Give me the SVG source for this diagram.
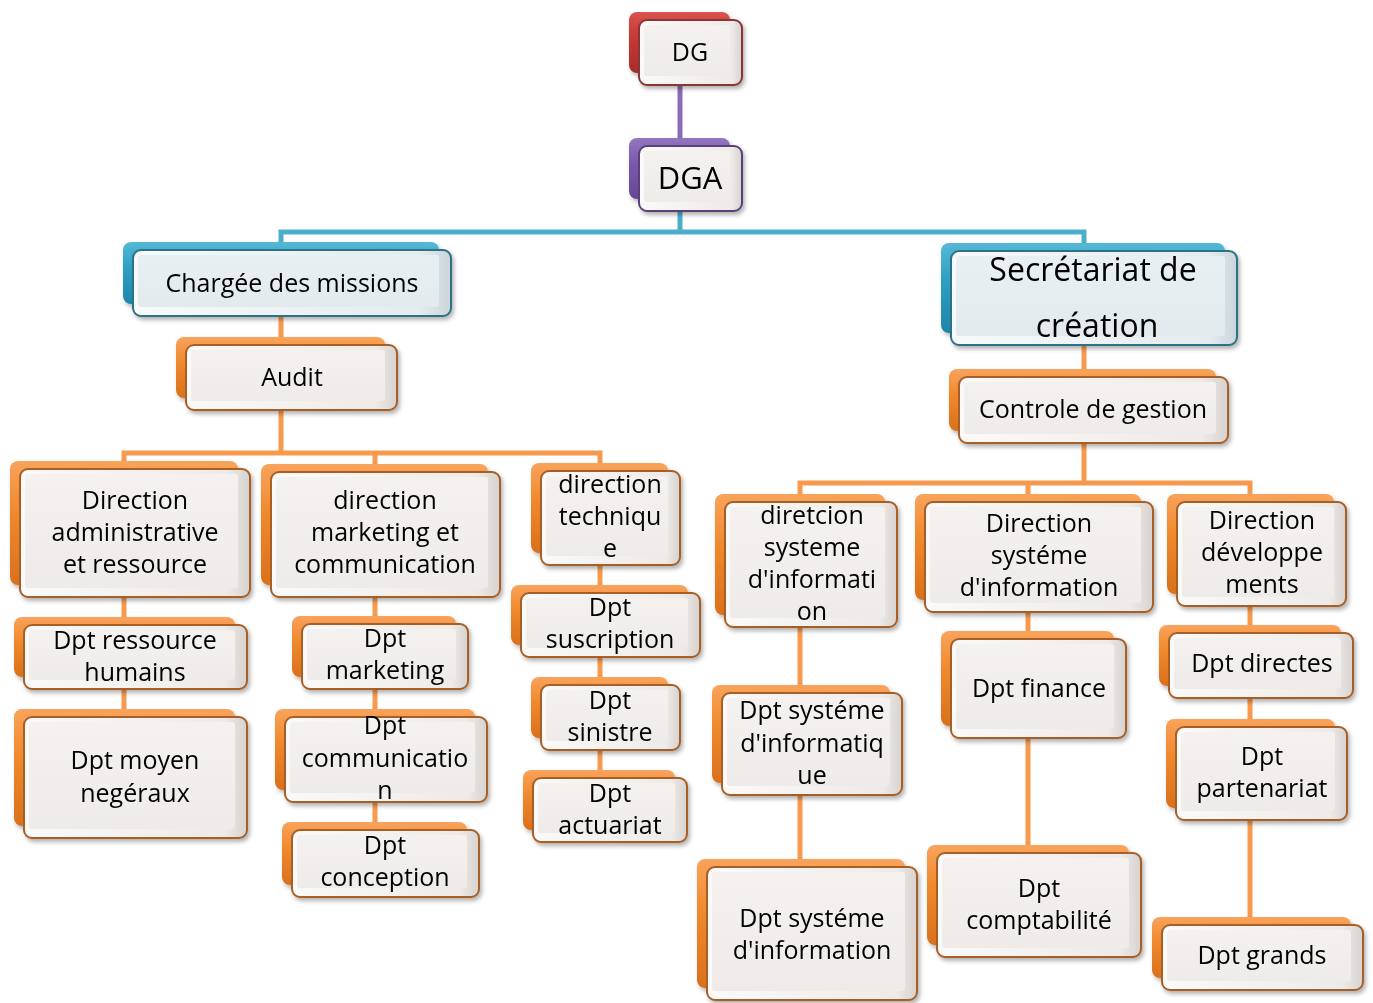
<svg xmlns="http://www.w3.org/2000/svg" width="1373" height="1003" viewBox="0 0 1373 1003">
<defs>
<style>
.lbl{font-family:"Open Sans","Noto Sans",sans-serif;font-size:25px;fill:#000;text-anchor:middle}
.big{font-size:31px}
.sec{font-size:32px}
.conn path{fill:none;stroke-width:5}
.c-o{stroke:#F79A4E}
.c-b{stroke:#4BAECB}
.c-p{stroke:#8A6BB4}
.node{filter:url(#sh)}
.back{stroke:none}
.front{stroke-width:2}
.inner{stroke:none;fill:url(#innerG)}
.orange .back{fill:url(#bO)}
.orange .front{fill:url(#fO);stroke:#A85E26}
.blue .back{fill:url(#bB)}
.blue .front{fill:url(#fB);stroke:#2E6F86}
.blue .inner{fill:url(#innerB)}
.red .back{fill:url(#bR)}
.red .front{fill:url(#fO);stroke:#8C3434}
.purple .back{fill:url(#bP)}
.purple .front{fill:url(#fO);stroke:#5A4278}
</style>
<filter id="sh" x="-10%" y="-10%" width="125%" height="130%">
<feDropShadow dx="2" dy="3" stdDeviation="2" flood-color="#000" flood-opacity="0.3"/>
</filter>
<linearGradient id="bO" x1="0" y1="0" x2="0" y2="1">
<stop offset="0" stop-color="#F9A35C"/><stop offset="0.4" stop-color="#F08A2E"/><stop offset="1" stop-color="#D9701C"/>
</linearGradient>
<linearGradient id="bB" x1="0" y1="0" x2="0" y2="1">
<stop offset="0" stop-color="#55B8D6"/><stop offset="0.4" stop-color="#2FA0C4"/><stop offset="1" stop-color="#1E85A8"/>
</linearGradient>
<linearGradient id="bR" x1="0" y1="0" x2="0" y2="1">
<stop offset="0" stop-color="#D9534F"/><stop offset="0.4" stop-color="#C63A36"/><stop offset="1" stop-color="#A82C2A"/>
</linearGradient>
<linearGradient id="bP" x1="0" y1="0" x2="0" y2="1">
<stop offset="0" stop-color="#9276C0"/><stop offset="0.4" stop-color="#7B5AAE"/><stop offset="1" stop-color="#654795"/>
</linearGradient>
<linearGradient id="fO" x1="0" y1="0" x2="1" y2="0">
<stop offset="0" stop-color="#FBFAF9"/><stop offset="0.9" stop-color="#EEEAE7"/><stop offset="1" stop-color="#D6D2CF"/>
</linearGradient>
<linearGradient id="fB" x1="0" y1="0" x2="1" y2="0">
<stop offset="0" stop-color="#F6FAFB"/><stop offset="0.9" stop-color="#E4ECF0"/><stop offset="1" stop-color="#CBD5DA"/>
</linearGradient>
<linearGradient id="innerG" x1="0" y1="0" x2="0" y2="1">
<stop offset="0" stop-color="#F4F1EF"/><stop offset="1" stop-color="#EFEBE8"/>
</linearGradient>
<linearGradient id="innerB" x1="0" y1="0" x2="0" y2="1">
<stop offset="0" stop-color="#E9F0F3"/><stop offset="1" stop-color="#E2EAEE"/>
</linearGradient>
</defs>
<rect width="1373" height="1003" fill="#fff"/>

<g id="connectors" class="conn">
<path class="c-p" d="M680 85V146"/>
<path class="c-b" d="M680 211V232M281 250V232H1084V251"/>
<path class="c-o" d="M281 316V345M281 410V453M124 469V453H600V471M375 453V472"/>
<path class="c-o" d="M124 597V717M375 597V830M600 565V778"/>
<path class="c-o" d="M1084 345V377M1084 443V483M800 502V483H1250V502M1028 483V502"/>
<path class="c-o" d="M800 627V867M1028 612V853M1250 606V925"/>
</g>

<g id="DG" class="node red">
<rect class="back" x="629" y="12" width="101" height="61" rx="8"/>
<rect class="front" x="639" y="20" width="103" height="65" rx="8"/>
<rect class="inner" x="644" y="25" width="86" height="51" rx="3"/>
<text class="lbl" x="690" y="61">DG</text>
</g>

<g id="DGA" class="node purple">
<rect class="back" x="629" y="138" width="101" height="61" rx="8"/>
<rect class="front" x="639" y="146" width="103" height="65" rx="8"/>
<rect class="inner" x="644" y="151" width="86" height="51" rx="3"/>
<text class="lbl big" x="690" y="189">DGA</text>
</g>

<g id="charge" class="node blue">
<rect class="back" x="123" y="242" width="316" height="62" rx="8"/>
<rect class="front" x="133" y="250" width="318" height="66" rx="8"/>
<rect class="inner" x="138" y="255" width="301" height="52" rx="3"/>
<text class="lbl" x="292" y="292">Chargée des missions</text>
</g>

<g id="secretariat" class="node blue">
<rect class="back" x="941" y="243" width="284" height="90" rx="8"/>
<rect class="front" x="951" y="251" width="286" height="94" rx="8"/>
<rect class="inner" x="956" y="256" width="269" height="80" rx="3"/>
<text class="lbl sec" x="1093" y="281">Secrétariat de</text>
<text class="lbl sec" x="1097" y="337">création</text>
</g>

<g id="audit" class="node orange">
<rect class="back" x="176" y="337" width="209" height="61" rx="8"/>
<rect class="front" x="186" y="345" width="211" height="65" rx="8"/>
<rect class="inner" x="191" y="350" width="194" height="51" rx="3"/>
<text class="lbl" x="292" y="386">Audit</text>
</g>

<g id="controle" class="node orange">
<rect class="back" x="949" y="369" width="267" height="62" rx="8"/>
<rect class="front" x="959" y="377" width="269" height="66" rx="8"/>
<rect class="inner" x="964" y="382" width="252" height="52" rx="3"/>
<text class="lbl" x="1093" y="418">Controle de gestion</text>
</g>

<g id="dir-admin" class="node orange">
<rect class="back" x="10" y="461" width="228" height="124" rx="8"/>
<rect class="front" x="20" y="469" width="230" height="128" rx="8"/>
<rect class="inner" x="25" y="474" width="213" height="114" rx="3"/>
<text class="lbl" x="135" y="509">Direction</text>
<text class="lbl" x="135" y="541">administrative</text>
<text class="lbl" x="135" y="573">et ressource</text>
</g>

<g id="dir-mkt" class="node orange">
<rect class="back" x="261" y="464" width="227" height="121" rx="8"/>
<rect class="front" x="271" y="472" width="229" height="125" rx="8"/>
<rect class="inner" x="276" y="477" width="212" height="111" rx="3"/>
<text class="lbl" x="385" y="509">direction</text>
<text class="lbl" x="385" y="541">marketing et</text>
<text class="lbl" x="385" y="573">communication</text>
</g>

<g id="dir-tech" class="node orange">
<rect class="back" x="531" y="463" width="137" height="90" rx="8"/>
<rect class="front" x="541" y="471" width="139" height="94" rx="8"/>
<rect class="inner" x="546" y="476" width="122" height="80" rx="3"/>
<text class="lbl" x="610" y="493">direction</text>
<text class="lbl" x="610" y="525">techniqu</text>
<text class="lbl" x="610" y="557">e</text>
</g>

<g id="dpt-rh" class="node orange">
<rect class="back" x="14" y="617" width="221" height="60" rx="8"/>
<rect class="front" x="24" y="625" width="223" height="64" rx="8"/>
<rect class="inner" x="29" y="630" width="206" height="50" rx="3"/>
<text class="lbl" x="135" y="649">Dpt ressource</text>
<text class="lbl" x="135" y="681">humains</text>
</g>

<g id="dpt-moyen" class="node orange">
<rect class="back" x="14" y="709" width="221" height="117" rx="8"/>
<rect class="front" x="24" y="717" width="223" height="121" rx="8"/>
<rect class="inner" x="29" y="722" width="206" height="107" rx="3"/>
<text class="lbl" x="135" y="769">Dpt moyen</text>
<text class="lbl" x="135" y="802">negéraux</text>
</g>

<g id="dpt-mkt" class="node orange">
<rect class="back" x="292" y="616" width="164" height="61" rx="8"/>
<rect class="front" x="302" y="624" width="166" height="65" rx="8"/>
<rect class="inner" x="307" y="629" width="149" height="51" rx="3"/>
<text class="lbl" x="385" y="647">Dpt</text>
<text class="lbl" x="385" y="679">marketing</text>
</g>

<g id="dpt-comm" class="node orange">
<rect class="back" x="275" y="709" width="200" height="81" rx="8"/>
<rect class="front" x="285" y="717" width="202" height="85" rx="8"/>
<rect class="inner" x="290" y="722" width="185" height="71" rx="3"/>
<text class="lbl" x="385" y="734">Dpt</text>
<text class="lbl" x="385" y="767">communicatio</text>
<text class="lbl" x="385" y="799">n</text>
</g>

<g id="dpt-conc" class="node orange">
<rect class="back" x="282" y="822" width="185" height="63" rx="8"/>
<rect class="front" x="292" y="830" width="187" height="67" rx="8"/>
<rect class="inner" x="297" y="835" width="170" height="53" rx="3"/>
<text class="lbl" x="385" y="854">Dpt</text>
<text class="lbl" x="385" y="886">conception</text>
</g>

<g id="dpt-susc" class="node orange">
<rect class="back" x="511" y="585" width="177" height="60" rx="8"/>
<rect class="front" x="521" y="593" width="179" height="64" rx="8"/>
<rect class="inner" x="526" y="598" width="162" height="50" rx="3"/>
<text class="lbl" x="610" y="616">Dpt</text>
<text class="lbl" x="610" y="648">suscription</text>
</g>

<g id="dpt-sin" class="node orange">
<rect class="back" x="531" y="677" width="137" height="61" rx="8"/>
<rect class="front" x="541" y="685" width="139" height="65" rx="8"/>
<rect class="inner" x="546" y="690" width="122" height="51" rx="3"/>
<text class="lbl" x="610" y="709">Dpt</text>
<text class="lbl" x="610" y="741">sinistre</text>
</g>

<g id="dpt-act" class="node orange">
<rect class="back" x="523" y="770" width="152" height="60" rx="8"/>
<rect class="front" x="533" y="778" width="154" height="64" rx="8"/>
<rect class="inner" x="538" y="783" width="137" height="50" rx="3"/>
<text class="lbl" x="610" y="802">Dpt</text>
<text class="lbl" x="610" y="834">actuariat</text>
</g>

<g id="dir-si1" class="node orange">
<rect class="back" x="715" y="494" width="170" height="121" rx="8"/>
<rect class="front" x="725" y="502" width="172" height="125" rx="8"/>
<rect class="inner" x="730" y="507" width="155" height="111" rx="3"/>
<text class="lbl" x="812" y="524">diretcion</text>
<text class="lbl" x="812" y="556">systeme</text>
<text class="lbl" x="812" y="588">d'informati</text>
<text class="lbl" x="812" y="620">on</text>
</g>

<g id="dir-si2" class="node orange">
<rect class="back" x="915" y="494" width="226" height="106" rx="8"/>
<rect class="front" x="925" y="502" width="228" height="110" rx="8"/>
<rect class="inner" x="930" y="507" width="211" height="96" rx="3"/>
<text class="lbl" x="1039" y="532">Direction</text>
<text class="lbl" x="1039" y="564">systéme</text>
<text class="lbl" x="1039" y="596">d'information</text>
</g>

<g id="dir-dev" class="node orange">
<rect class="back" x="1167" y="494" width="167" height="100" rx="8"/>
<rect class="front" x="1177" y="502" width="169" height="104" rx="8"/>
<rect class="inner" x="1182" y="507" width="152" height="90" rx="3"/>
<text class="lbl" x="1262" y="529">Direction</text>
<text class="lbl" x="1262" y="561">développe</text>
<text class="lbl" x="1262" y="593">ments</text>
</g>

<g id="dpt-sique" class="node orange">
<rect class="back" x="712" y="685" width="178" height="98" rx="8"/>
<rect class="front" x="722" y="693" width="180" height="102" rx="8"/>
<rect class="inner" x="727" y="698" width="163" height="88" rx="3"/>
<text class="lbl" x="812" y="719">Dpt systéme</text>
<text class="lbl" x="812" y="752">d'informatiq</text>
<text class="lbl" x="812" y="784">ue</text>
</g>

<g id="dpt-fin" class="node orange">
<rect class="back" x="941" y="631" width="173" height="95" rx="8"/>
<rect class="front" x="951" y="639" width="175" height="99" rx="8"/>
<rect class="inner" x="956" y="644" width="158" height="85" rx="3"/>
<text class="lbl" x="1039" y="697">Dpt finance</text>
</g>

<g id="dpt-dir" class="node orange">
<rect class="back" x="1159" y="625" width="182" height="61" rx="8"/>
<rect class="front" x="1169" y="633" width="184" height="65" rx="8"/>
<rect class="inner" x="1174" y="638" width="167" height="51" rx="3"/>
<text class="lbl" x="1262" y="672">Dpt directes</text>
</g>

<g id="dpt-part" class="node orange">
<rect class="back" x="1166" y="719" width="169" height="89" rx="8"/>
<rect class="front" x="1176" y="727" width="171" height="93" rx="8"/>
<rect class="inner" x="1181" y="732" width="154" height="79" rx="3"/>
<text class="lbl" x="1262" y="765">Dpt</text>
<text class="lbl" x="1262" y="797">partenariat</text>
</g>

<g id="dpt-sinfo" class="node orange">
<rect class="back" x="697" y="859" width="208" height="129" rx="8"/>
<rect class="front" x="707" y="867" width="210" height="133" rx="8"/>
<rect class="inner" x="712" y="872" width="193" height="119" rx="3"/>
<text class="lbl" x="812" y="927">Dpt systéme</text>
<text class="lbl" x="812" y="959">d'information</text>
</g>

<g id="dpt-compt" class="node orange">
<rect class="back" x="927" y="845" width="202" height="100" rx="8"/>
<rect class="front" x="937" y="853" width="204" height="104" rx="8"/>
<rect class="inner" x="942" y="858" width="187" height="90" rx="3"/>
<text class="lbl" x="1039" y="897">Dpt</text>
<text class="lbl" x="1039" y="929">comptabilité</text>
</g>

<g id="dpt-grands" class="node orange">
<rect class="back" x="1152" y="917" width="199" height="61" rx="8"/>
<rect class="front" x="1162" y="925" width="201" height="65" rx="8"/>
<rect class="inner" x="1167" y="930" width="184" height="51" rx="3"/>
<text class="lbl" x="1262" y="964">Dpt grands</text>
</g>
</svg>
